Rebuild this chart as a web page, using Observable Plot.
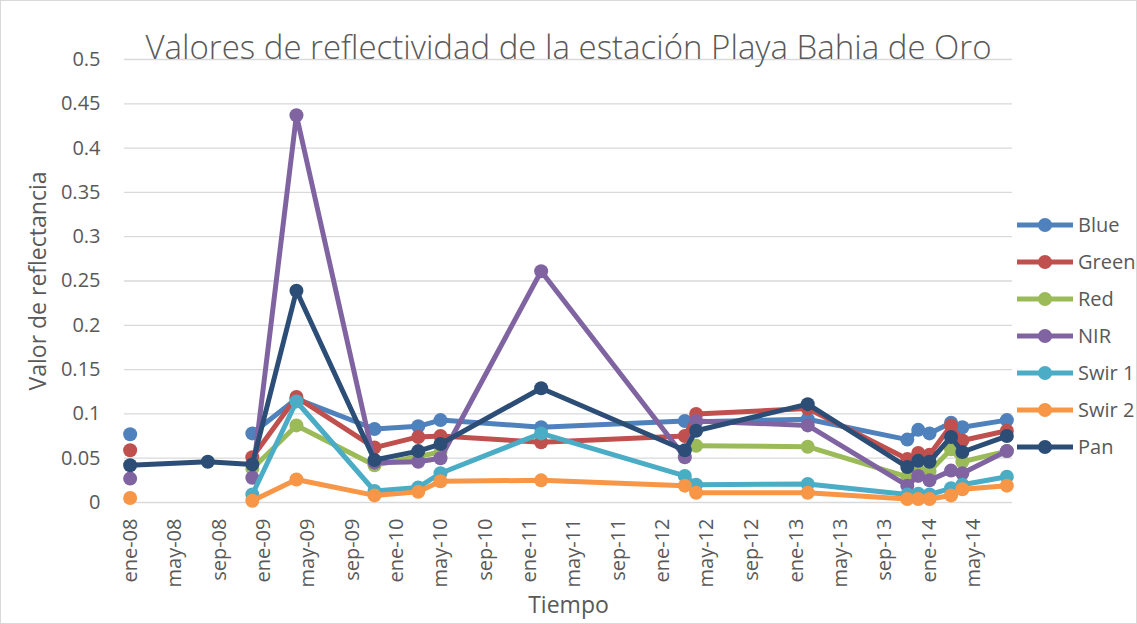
<!DOCTYPE html>
<html>
<head>
<meta charset="utf-8">
<script src="https://cdn.jsdelivr.net/npm/d3@7"></script>
<script src="https://cdn.jsdelivr.net/npm/@observablehq/plot@0.6"></script>
<style>
  body { margin: 0; background: #fff; }
  #wrap { position: relative; width: 1137px; height: 624px; overflow: hidden; font-family: "Open Sans", sans-serif; color: #595959; background:#fff; }
  #frame { position: absolute; left: 0; top: 0; width: 1137px; height: 624px; box-sizing: border-box; border: 1.5px solid #D9D9D9; pointer-events: none; }
  #chart { position: absolute; left: 0; top: 0; }
  #legend { position: absolute; left: 1015px; top: 0; }
  .item { position: absolute; left: 0; height: 24px; width: 122px; }
  .item svg { position: absolute; left: 0; top: 0; }
  .item span { position: absolute; left: 63px; top: 0; font-size: 20px; line-height: 24px; white-space: nowrap; color: #595959; }
</style>
</head>
<body>
<div id="wrap"><div id="chart"></div><div id="legend"></div><div id="frame"></div></div>
<script>
// ---- data ----
const titulo = "Valores de reflectividad de la estación Playa Bahia de Oro";
const tituloX = "Tiempo";
const tituloY = "Valor de reflectancia";
const mesesAbr = ["ene","feb","mar","abr","may","jun","jul","ago","sep","oct","nov","dic"];
const fechas = ["2008-01","2008-08","2008-12","2009-04","2009-11","2010-03","2010-05","2011-02","2012-03","2012-04","2013-02","2013-11","2013-12","2014-01","2014-03","2014-04","2014-08"];
const blue  = [0.077, null, 0.078, 0.117, 0.083, 0.086, 0.093, 0.085, 0.092, 0.091, 0.094, 0.071, 0.082, 0.078, 0.090, 0.085, 0.093];
const green = [0.059, null, 0.051, 0.119, 0.062, 0.074, 0.075, 0.068, 0.075, 0.100, 0.106, 0.049, 0.056, 0.054, 0.087, 0.070, 0.081];
const red   = [null, null, 0.038, 0.087, 0.042, 0.052, 0.057, null, null, 0.064, 0.063, 0.029, 0.036, 0.035, 0.060, 0.046, 0.058];
const nir   = [0.027, null, 0.028, 0.437, 0.045, 0.046, 0.050, 0.261, 0.051, 0.092, 0.087, 0.019, 0.030, 0.025, 0.036, 0.033, 0.058];
const swir1 = [null, null, 0.009, 0.114, 0.013, 0.017, 0.033, 0.078, 0.030, 0.020, 0.021, 0.009, 0.010, 0.009, 0.016, 0.020, 0.029];
const swir2 = [0.005, null, 0.002, 0.026, 0.008, 0.012, 0.024, 0.025, 0.019, 0.011, 0.011, 0.004, 0.004, 0.004, 0.008, 0.015, 0.019];
const pan   = [0.042, 0.046, 0.043, 0.239, 0.048, 0.058, 0.066, 0.129, 0.059, 0.081, 0.111, 0.040, 0.047, 0.046, 0.074, 0.057, 0.075];
const seriesNames = ["Blue","Green","Red","NIR","Swir 1","Swir 2","Pan"];
const seriesValues = [blue, green, red, nir, swir1, swir2, pan];
const seriesColors = ["#4F81BD","#C0504D","#9BBB59","#8064A2","#4BACC6","#F79646","#2C4D75"];
const yTicks = [0, 0.05, 0.1, 0.15, 0.2, 0.25, 0.3, 0.35, 0.4, 0.45, 0.5];
const yTickLabels = ["0","0.05","0.1","0.15","0.2","0.25","0.3","0.35","0.4","0.45","0.5"];
const xTickStart = "2008-01", xTickEnd = "2014-06", xTickStepMonths = 4;

// ---- build ----
const parse = d3.utcParse("%Y-%m");
const dates = fechas.map(parse);
const xStart = new Date(Date.UTC(2007, 11, 16, 12));
const xEnd = new Date(Date.UTC(2014, 7, 16, 12));
const xTicks = d3.utcMonth.every(xTickStepMonths).range(parse(xTickStart), parse(xTickEnd));
const fmtX = d => mesesAbr[d.getUTCMonth()] + "-" + String(d.getUTCFullYear()).slice(2);
const fmtY = d => yTickLabels[yTicks.indexOf(d)];

const seriesMarks = [];
seriesNames.forEach((name, s) => {
  const data = dates.map((d, i) => ({fecha: d, valor: seriesValues[s][i], serie: name}));
  seriesMarks.push(Plot.line(data, {x: "fecha", y: "valor", stroke: seriesColors[s], strokeWidth: 5, strokeLinejoin: "round", strokeLinecap: "round"}));
  seriesMarks.push(Plot.dot(data.filter(d => d.valor != null), {x: "fecha", y: "valor", r: 7, fill: seriesColors[s], stroke: "none"}));
});

const chart = Plot.plot({
  width: 1137,
  height: 624,
  marginLeft: 124,
  marginRight: 125,
  marginTop: 59,
  marginBottom: 122,
  style: {fontFamily: '"Open Sans", sans-serif', fontSize: "20px", color: "#595959", background: "transparent", overflow: "visible"},
  x: {type: "utc", domain: [xStart, xEnd]},
  y: {domain: [0, 0.5]},
  marks: [
    Plot.gridY(yTicks, {stroke: "#D9D9D9", strokeOpacity: 1, strokeWidth: 1.3}),
    Plot.axisY(yTicks, {tickSize: 0, tickPadding: 24, tickFormat: fmtY, label: null, fill: "#595959"}),
    Plot.axisX(xTicks, {tickSize: 0, tickPadding: 16, tickRotate: -90, tickFormat: fmtX, label: null, fill: "#595959"}),
    ...seriesMarks,
    Plot.text([titulo], {text: d => d, frameAnchor: "top", textAnchor: "middle", lineAnchor: "bottom", dy: -1, fontSize: 33, fontWeight: 300, fill: "#595959"}),
    Plot.text([tituloX], {text: d => d, frameAnchor: "bottom", textAnchor: "middle", lineAnchor: "bottom", dy: 110, fontSize: 23, fill: "#595959"}),
    Plot.text([tituloY], {text: d => d, frameAnchor: "left", textAnchor: "middle", lineAnchor: "bottom", rotate: -90, dx: -79, fontSize: 23, fill: "#595959"})
  ]
});
document.getElementById("chart").appendChild(chart);

// legend
const legendTops = 225, legendStep = 37;
const legend = document.getElementById("legend");
seriesNames.forEach((name, s) => {
  const item = document.createElement("div");
  item.className = "item";
  item.style.top = (legendTops + s * legendStep - 12) + "px";
  item.innerHTML = `<svg width="60" height="24"><line x1="2" y1="12" x2="58" y2="12" stroke="${seriesColors[s]}" stroke-width="5"/><circle cx="30" cy="12" r="7" fill="${seriesColors[s]}"/></svg><span>${name}</span>`;
  legend.appendChild(item);
});
</script>
</body>
</html>
